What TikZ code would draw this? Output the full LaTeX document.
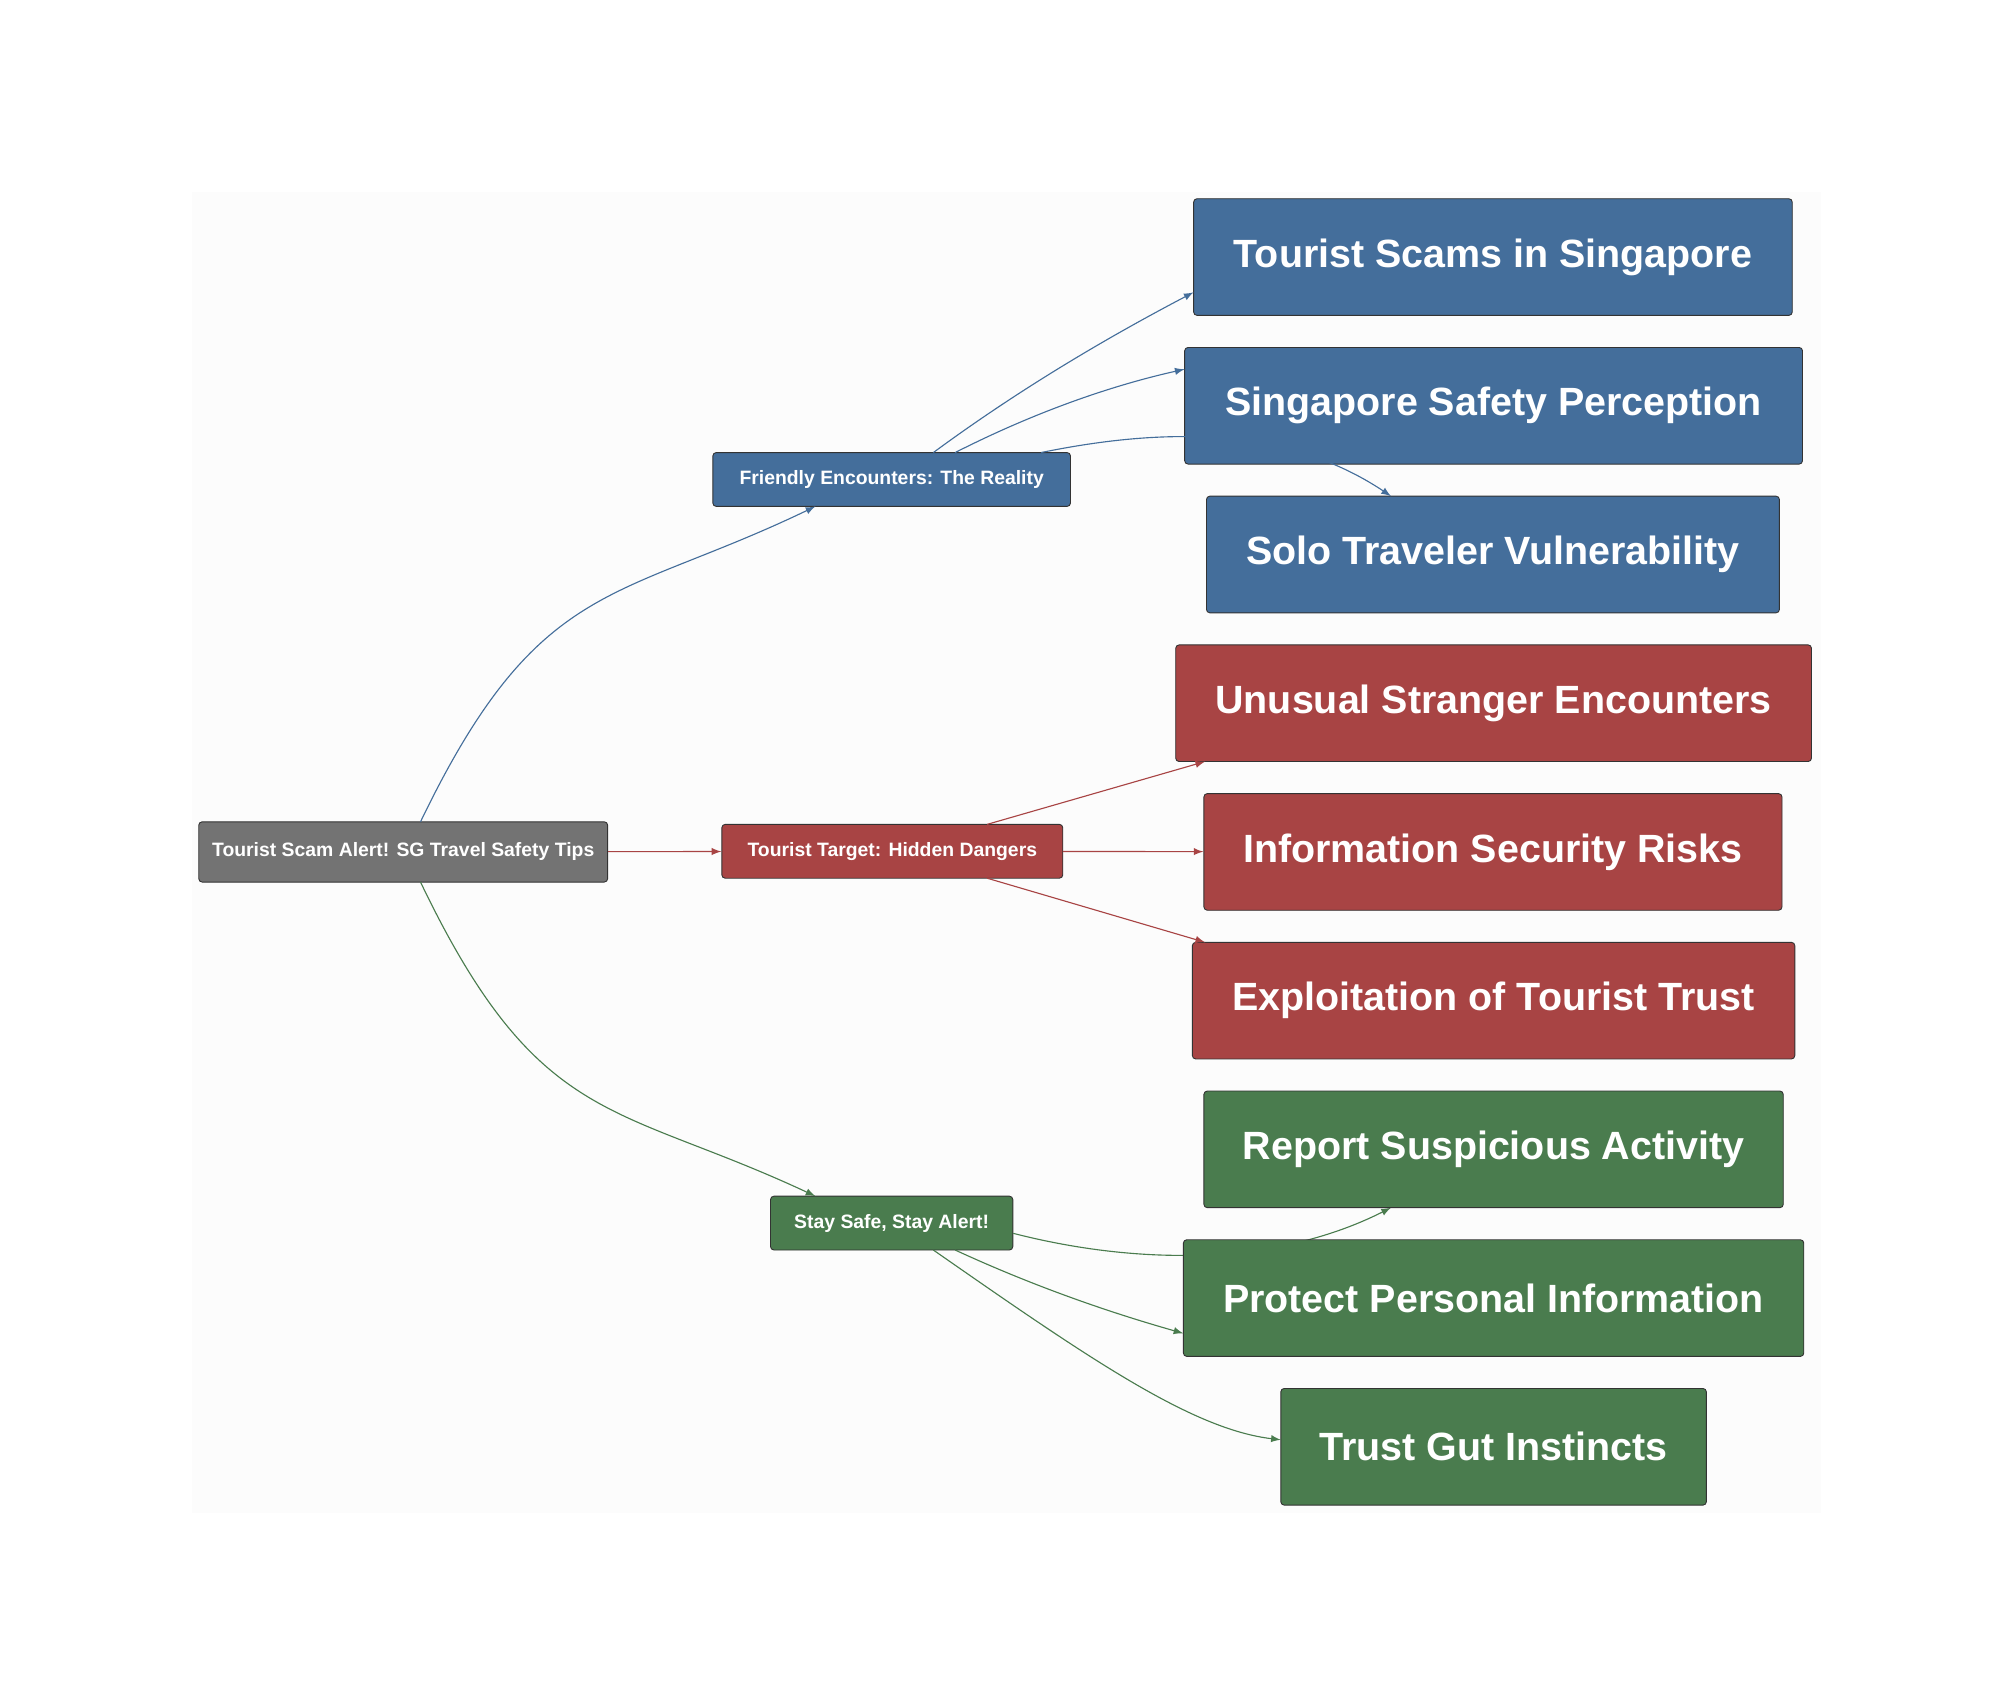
\documentclass[tikz,border=0pt]{standalone}
\usepackage{fontspec}
\setmainfont{Liberation Sans}
\begin{document}
\begin{tikzpicture}
    [
    x=0.02cm,y=-0.02cm,
    box/.style={draw=black!80,rounded corners=1.5pt,text=white,font=\bfseries,inner sep=0pt},
    hub/.style={box,minimum height=0.84cm,font=\fontsize{8.6}{10}\selectfont\bfseries},
    leaf/.style={box,minimum height=1.82cm,font=\fontsize{17.5}{20}\selectfont\bfseries},
    link/.style={-latex,line width=0.5pt,shorten >=0pt}
    ]
    \definecolor{blueish}{HTML}{446E9B}
    \definecolor{redish}{HTML}{A84444}
    \definecolor{greenish}{HTML}{4A7C4E}
    \definecolor{greyish}{HTML}{737373}
    \useasboundingbox[fill=white] (0,0) rectangle (1560,1322);
    \fill[black!1] (150,150) rectangle (1420,1180);
    \node (R) at (314.5,664.5) [hub,fill=greyish,minimum width=6.38cm,minimum height=0.94cm] {Tourist Scam Alert! SG Travel Safety Tips};
    \node (F) at (695.5,374) [hub,fill=blueish,minimum width=5.58cm] {Friendly Encounters: The Reality};
    \node (T) at (696,664) [hub,fill=redish,minimum width=5.32cm] {Tourist Target: Hidden Dangers};
    \node (S) at (695.5,954) [hub,fill=greenish,minimum width=3.78cm] {Stay Safe, Stay Alert!};
    % leaves, green edge passing behind Protect first
    \draw [link,greenish] (S.east) ++(0,8) .. controls (880,985) and (990,990) .. (1085,942);
    \node (F1) at (1164.5,200.5) [leaf,fill=blueish,minimum width=9.34cm] {Tourist Scams in Singapore};
    \node (F2) at (1165,316.5) [leaf,fill=blueish,minimum width=9.64cm] {Singapore Safety Perception};
    \node (T1) at (1165,548.5) [leaf,fill=redish,minimum width=9.92cm] {Unusual Stranger Encounters};
    \node (T2) at (1164.5,664.5) [leaf,fill=redish,minimum width=9.02cm] {Information Security Risks};
    \node (T3) at (1165,780.5) [leaf,fill=redish,minimum width=9.4cm] {Exploitation of Tourist Trust};
    \node (S1) at (1165,896.5) [leaf,fill=greenish,minimum width=9.04cm] {Report Suspicious Activity};
    \node (S2) at (1165,1012.5) [leaf,fill=greenish,minimum width=9.68cm] {Protect Personal Information};
    \node (S3) at (1165,1128.5) [leaf,fill=greenish,minimum width=6.64cm] {Trust Gut Instincts};
    \node (F3) at (1164.5,432.5) [leaf,fill=blueish,minimum width=8.94cm] {Solo Traveler Vulnerability};
    % connectors
    \draw [link,blueish] (812,353) .. controls (900,335) and (1000,330) .. (1085,387);
    \draw [link,blueish] (328,641) .. controls (420,450) and (480,470) .. (636,395);
    \draw [link,redish] (R) -- (T);
    \draw [link,greenish] (328,688) .. controls (420,880) and (480,860) .. (636,933);
    \draw [link,blueish] (728,353) .. controls (800,300) and (870,260) .. (931,228);
    \draw [link,blueish] (745,353) .. controls (810,320) and (870,300) .. (924,288);
    \draw [link,redish] (770,643) -- (940,594);
    \draw [link,redish] (T) -- (T2);
    \draw [link,redish] (770,685) -- (940,735);
    \draw [link,greenish] (745,975) .. controls (810,1005) and (870,1025) .. (923,1040);
    \draw [link,greenish] (728,975) .. controls (850,1060) and (930,1115) .. (999,1123);
\end{tikzpicture}
\end{document}
